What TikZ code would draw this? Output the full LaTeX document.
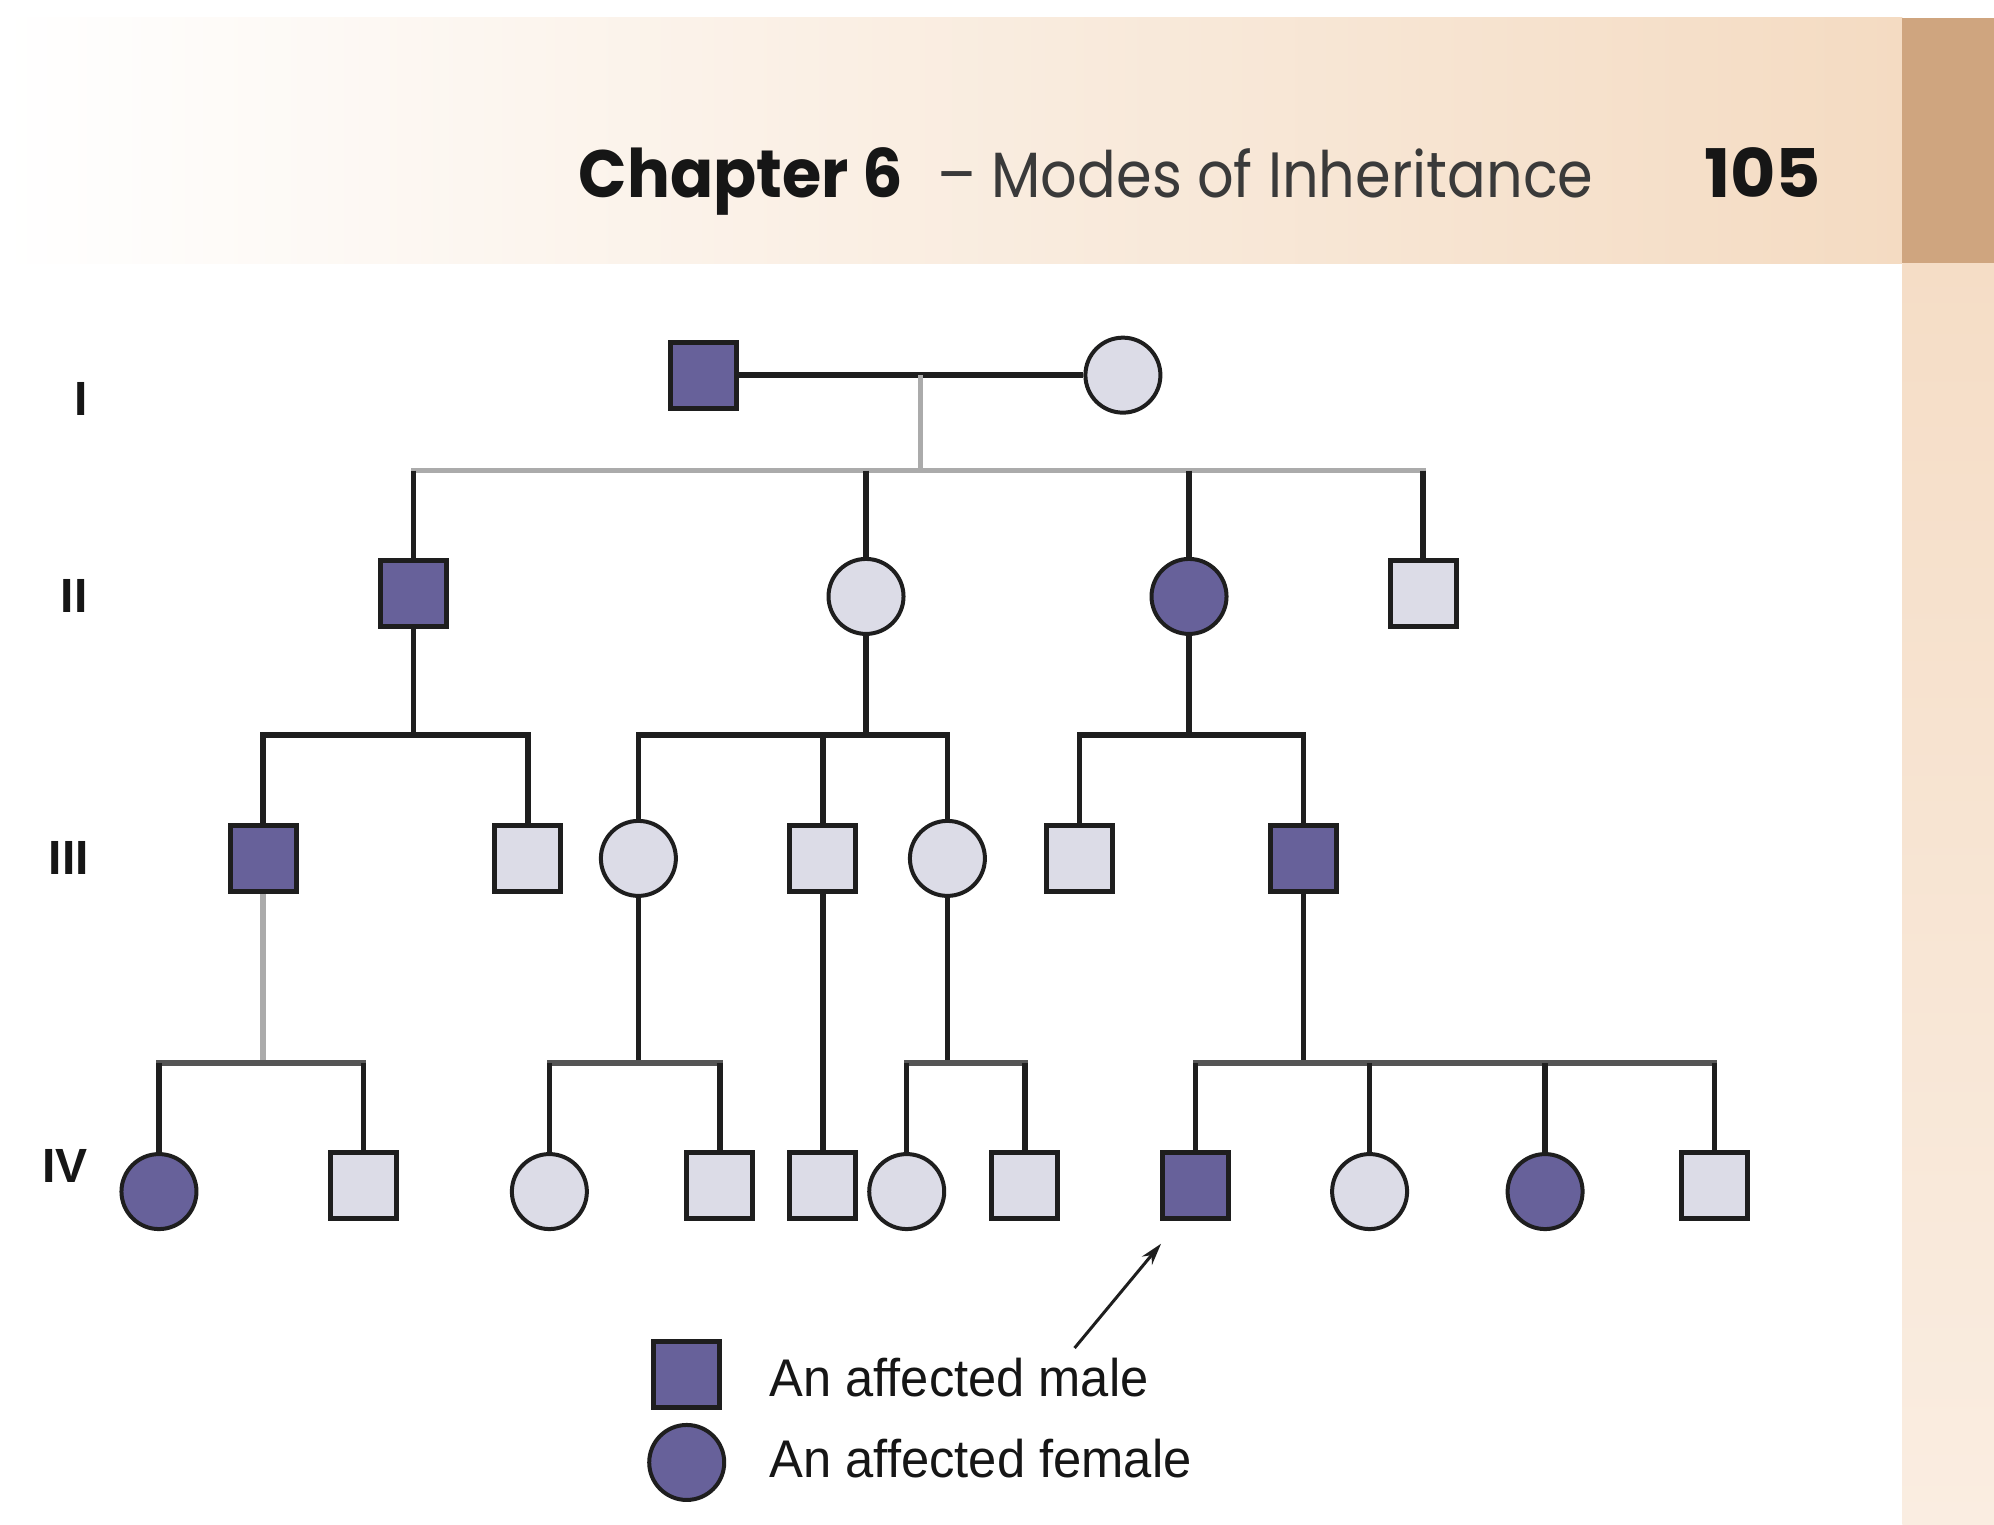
\documentclass[tikz,border=0pt]{standalone}
\usepackage{fontspec}
\setmainfont{Liberation Sans}
\newfontfamily\hdr{Poppins}
\usetikzlibrary{arrows.meta}
\definecolor{affC}{HTML}{67619A}
\definecolor{unaffC}{HTML}{DCDCE7}
\definecolor{lineC}{HTML}{1E1E1E}
\definecolor{lgray}{HTML}{ABABAB}
\definecolor{dgray}{HTML}{555555}
\definecolor{peach}{HTML}{F4DBC2}
\definecolor{brownC}{HTML}{CFA57F}
\definecolor{colTop}{HTML}{F5DDC6}
\definecolor{colBot}{HTML}{FAEDE1}
\definecolor{txtC}{HTML}{161616}
\definecolor{hdrgray}{HTML}{3A3A3A}
\newcommand\fitw[2]{\resizebox{#1}{\height}{#2}}
\tikzset{
  person/.style={draw=lineC, fill=unaffC, inner sep=0pt},
  male/.style={person, rectangle, minimum size=66pt, line width=5pt},
  female/.style={person, circle, minimum size=75pt, line width=4pt},
  aff/.style={fill=affC},
  link/.style={draw=lineC, line width=5.5pt},
  lglink/.style={draw=lgray, line width=5.5pt},
  dglink/.style={draw=dgray, line width=5.5pt},
  genlabel/.style={anchor=base east, inner sep=0pt, font=\fontsize{48}{50}\selectfont\bfseries, text=txtC},
  legtext/.style={anchor=base west, inner sep=0pt, text=txtC}
}
\begin{document}
\begin{tikzpicture}[x=1.2717pt,y=-1.2717pt]
\useasboundingbox (0,0) rectangle (1568,1199);
\fill[white] (0,0) rectangle (1568,1199);
% header band
\shade[left color=white, right color=peach] (0,14) rectangle (1496,207);
\fill[brownC] (1496,14) rectangle (1568,207);
\shade[top color=colTop, bottom color=colBot] (1496,207) rectangle (1568,1199);
\node[anchor=base west, inner sep=0pt] (ch) at (455,155)
  {\fitw{324pt}{\hdr\fontsize{67}{70}\selectfont\bfseries\color{txtC}Chapter 6}};
\node[anchor=base west, inner sep=0pt] (mt) at (737,155)
  {\fitw{656pt}{\hdr\fontsize{64}{70}\selectfont\color{hdrgray}– Modes of Inheritance}};
\node[anchor=base west, inner sep=0pt] (pg) at (1340,155)
  {\fitw{117pt}{\hdr\fontsize{67}{70}\selectfont\bfseries\color{txtC}105}};

% generation labels
\node[genlabel] (gI) at (69,327) {I};
\node[genlabel] (gII) at (69,482) {II};
\node[genlabel] (gIII) at (70,688) {III};
\node[genlabel] (gIV) at (69,930) {IV};

% sibship levels
\coordinate (m1) at (724,295);
\coordinate (y1) at (0,370);
\coordinate (y2) at (0,578);
\coordinate (y4) at (0,836);

% Generation I
\node[male,aff] (I1) at (553,295) {};
\node[female] (I2) at (883,295) {};
% Generation II
\node[male,aff] (II1) at (325,467) {};
\node[female] (II2) at (681,469) {};
\node[female,aff] (II3) at (935,469) {};
\node[male] (II4) at (1119,467) {};
% Generation III
\node[male,aff] (III1) at (207,675) {};
\node[male] (III2) at (415,675) {};
\node[female] (III3) at (502,675) {};
\node[male] (III4) at (647,675) {};
\node[female] (III5) at (745,675) {};
\node[male] (III6) at (849,675) {};
\node[male,aff] (III7) at (1025,675) {};
% Generation IV
\node[female,aff] (IV1) at (125,937) {};
\node[male] (IV2) at (286,932) {};
\node[female] (IV3) at (432,937) {};
\node[male] (IV4) at (566,932) {};
\node[male] (IV5) at (647,932) {};
\node[female] (IV6) at (713,937) {};
\node[male] (IV7) at (806,932) {};
\node[male,aff] (IV8) at (940,932) {};
\node[female] (IV9) at (1077,937) {};
\node[female,aff] (IV10) at (1215,937) {};
\node[male] (IV11) at (1348,932) {};

% I -> II
\draw[link] (I1.east) -- (I2.west);
\draw[lglink] (m1) -- (m1 |- y1);
\draw[lglink, line cap=rect] (II1.north |- y1) -- (II4.north |- y1);
\foreach \n in {II1,II2,II3,II4} \draw[link] (\n.north |- y1) -- (\n.north);

% II -> III
\draw[link] (II1.south) -- (II1.south |- y2);
\draw[link, line cap=rect] (III1.north |- y2) -- (III2.north |- y2);
\draw[link] (II2.south) -- (II2.south |- y2);
\draw[link, line cap=rect] (III3.north |- y2) -- (III5.north |- y2);
\draw[link] (II3.south) -- (II3.south |- y2);
\draw[link, line cap=rect] (III6.north |- y2) -- (III7.north |- y2);
\foreach \n in {III1,III2,III3,III4,III5,III6,III7} \draw[link] (\n.north |- y2) -- (\n.north);

% III -> IV
\draw[lglink] (III1.south) -- (III1.south |- y4);
\draw[dglink, line cap=rect] (IV1.north |- y4) -- (IV2.north |- y4);
\draw[link] (III3.south) -- (III3.south |- y4);
\draw[dglink, line cap=rect] (IV3.north |- y4) -- (IV4.north |- y4);
\draw[link] (III4.south) -- (IV5.north);
\draw[link] (III5.south) -- (III5.south |- y4);
\draw[dglink, line cap=rect] (IV6.north |- y4) -- (IV7.north |- y4);
\draw[link] (III7.south) -- (III7.south |- y4);
\draw[dglink, line cap=rect] (IV8.north |- y4) -- (IV11.north |- y4);
\foreach \n in {IV1,IV2,IV3,IV4,IV6,IV7,IV8,IV9,IV10,IV11} \draw[link] (\n.north |- y4) -- (\n.north);

% proband arrow
\coordinate (atail) at (845,1060);
\coordinate (ahead) at (913,978);
\draw[draw=lineC, line width=3pt, -{Stealth[length=22pt,width=13pt]}] (atail) -- (ahead);

% legend
\node[male,aff] (L1) at (540,1081) {};
\node[female,aff] (L2) at (540,1150) {};
\node[legtext] (t1) at (605,1098) {\fitw{379pt}{\fontsize{53}{56}\selectfont An affected male}};
\node[legtext] (t2) at (605,1162) {\fitw{422pt}{\fontsize{53}{56}\selectfont An affected female}};
\end{tikzpicture}
\end{document}
